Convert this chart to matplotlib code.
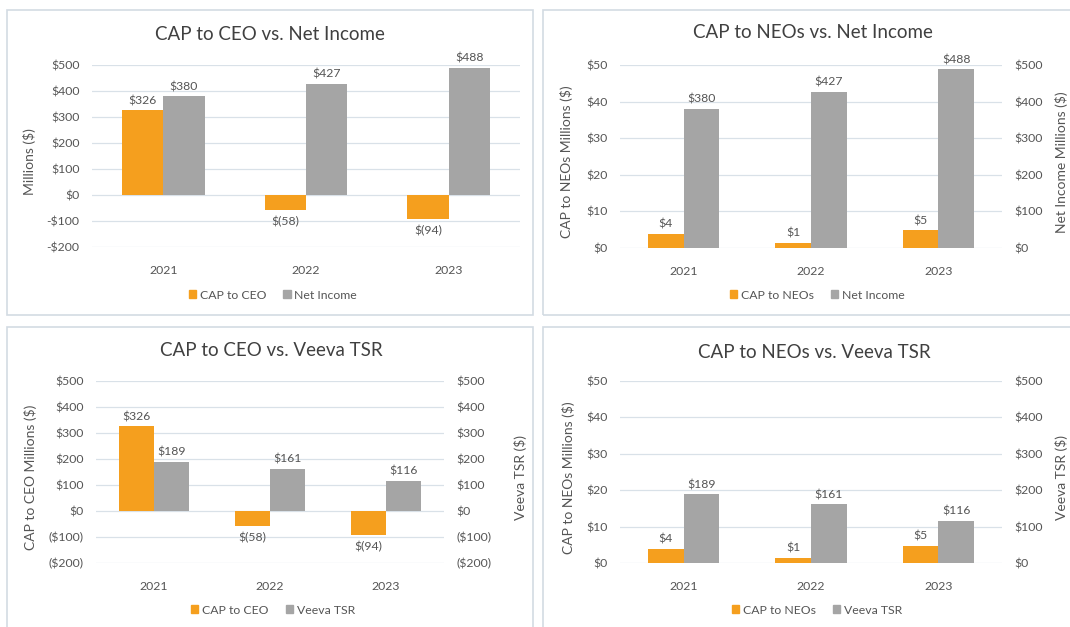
import matplotlib
matplotlib.use("Agg")
import matplotlib.pyplot as plt
from matplotlib.patches import Rectangle, Patch
from matplotlib.ticker import FuncFormatter, MultipleLocator

plt.rcParams['font.family'] = ['Lato', 'DejaVu Sans']

years = ["2021", "2022", "2023"]
cap_ceo = [326, -58, -94]
cap_neos = [3.9, 1.4, 4.8]
net_income = [380, 427, 488]
veeva_tsr = [189, 161, 116]

ORANGE = "#F59F1E"
GRAY = "#A5A5A5"
TEXT = "#555555"
GRID = "#D9E1E8"
W, H = 1070, 627


def money(v):
    """data label: $326 or $(58)"""
    if v < 0:
        return "$(%d)" % round(-v)
    return "$%d" % round(v)


def tick_dash(v, pos):
    return "-$%d" % -v if v < 0 else "$%d" % v


def tick_paren(v, pos):
    return "($%d)" % -v if v < 0 else "$%d" % v


def fig_rect(x0, y0, x1, y1):
    # pixel box (top-left origin) -> figure fraction [l, b, w, h]
    return [x0 / W, 1 - y1 / H, (x1 - x0) / W, (y1 - y0) / H]


def style_axis(ax, lim, step, fmt):
    ax.set_ylim(*lim)
    ax.yaxis.set_major_locator(MultipleLocator(step))
    ax.yaxis.set_major_formatter(FuncFormatter(fmt))
    for s in ax.spines.values():
        s.set_visible(False)
    ax.tick_params(axis="y", length=0, labelsize=8.8, labelcolor=TEXT, pad=9)
    ax.tick_params(axis="x", length=0, labelsize=8.8, labelcolor=TEXT, pad=13)


def label_bars(ax, bars, vals):
    for b, v in zip(bars, vals):
        x = b.get_x() + b.get_width() / 2
        if v >= 0:
            ax.annotate(money(v), (x, v), xytext=(0, 3), textcoords="offset points",
                        ha="center", va="bottom", fontsize=8.8, color=TEXT)
        else:
            ax.annotate(money(v), (x, v), xytext=(0, -4), textcoords="offset points",
                        ha="center", va="top", fontsize=8.8, color=TEXT)


def panel(box, plot, title, title_xy, legend_xy, left_vals, left_name, right_vals, right_name,
          left_lim, left_step, right_lim, right_step, fmt, left_label, right_label,
          left_lx, right_lx, twin=True, bw=0.29):
    # outer frame
    x0, y0, x1, y1 = box
    fig.patches.append(Rectangle((x0 / W, 1 - y1 / H), (x1 - x0) / W, (y1 - y0) / H,
                                 transform=fig.transFigure, fill=False,
                                 edgecolor="#D3DBE3", lw=1.2))
    fig.text(title_xy[0] / W, 1 - title_xy[1] / H, title, ha="center", va="center",
             fontsize=13.5, color="#404040")

    ax = fig.add_axes(fig_rect(*plot))
    x = range(len(years))
    style_axis(ax, left_lim, left_step, fmt)
    ax.set_xlim(-0.5, len(years) - 0.5)
    ax.grid(axis="y", color=GRID, lw=0.9)
    ax.set_axisbelow(True)
    ax.set_xticks(list(x))
    ax.set_xticklabels(years)

    b1 = ax.bar([i - bw / 2 for i in x], left_vals, bw, color=ORANGE, zorder=2)
    label_bars(ax, b1, left_vals)
    ax.set_ylabel(left_label, fontsize=10, color=TEXT)
    ax.yaxis.set_label_coords(left_lx, 0.47)

    if twin:
        ax2 = ax.twinx()
        style_axis(ax2, right_lim, right_step, fmt)
        ax2.set_xlim(-0.5, len(years) - 0.5)
        b2 = ax2.bar([i + bw / 2 for i in x], right_vals, bw, color=GRAY, zorder=2)
        label_bars(ax2, b2, right_vals)
        ax2.set_ylabel(right_label, fontsize=10, color=TEXT)
        ax2.yaxis.set_label_coords(right_lx, 0.47)
    else:
        b2 = ax.bar([i + bw / 2 for i in x], right_vals, bw, color=GRAY, zorder=2)
        label_bars(ax, b2, right_vals)

    handles = [Patch(color=ORANGE, label=left_name), Patch(color=GRAY, label=right_name)]
    fig.legend(handles=handles, loc="center", ncol=2, frameon=False,
               bbox_to_anchor=(legend_xy[0] / W, 1 - legend_xy[1] / H),
               fontsize=8.8, labelcolor=TEXT, handlelength=0.6, handleheight=0.6,
               handletextpad=0.3, columnspacing=1.4)


fig = plt.figure(figsize=(10.7, 6.27), dpi=100)

panel((7, 10, 533, 315), (92, 65, 520, 247), "CAP to CEO vs. Net Income", (270, 35), (273, 295),
      cap_ceo, "CAP to CEO", net_income, "Net Income",
      (-200, 500), 100, None, None, tick_dash, "Millions ($)", None, -0.13, None, twin=False)

panel((543, 10, 1080, 315), (620, 65, 1002, 248), "CAP to NEOs vs. Net Income", (813, 33), (817, 295),
      cap_neos, "CAP to NEOs", net_income, "Net Income",
      (0, 50), 10, (0, 500), 100, tick_dash, "CAP to NEOs Millions ($)", "Net Income Millions ($)",
      -0.123, 1.139, bw=0.28)

panel((7, 327, 533, 640), (96, 381, 444, 563), "CAP to CEO vs. Veeva TSR", (271, 350), (273, 610),
      cap_ceo, "CAP to CEO", veeva_tsr, "Veeva TSR",
      (-200, 500), 100, (-200, 500), 100, tick_paren, "CAP to CEO Millions ($)", "Veeva TSR ($)",
      -0.17, 1.2, bw=0.3)

panel((543, 327, 1080, 640), (620, 381, 1002, 563), "CAP to NEOs vs. Veeva TSR", (814, 352), (817, 610),
      cap_neos, "CAP to NEOs", veeva_tsr, "Veeva TSR",
      (0, 50), 10, (0, 500), 100, tick_dash, "CAP to NEOs Millions ($)", "Veeva TSR ($)",
      -0.118, 1.139, bw=0.28)

fig.savefig("out.png", dpi=100)
